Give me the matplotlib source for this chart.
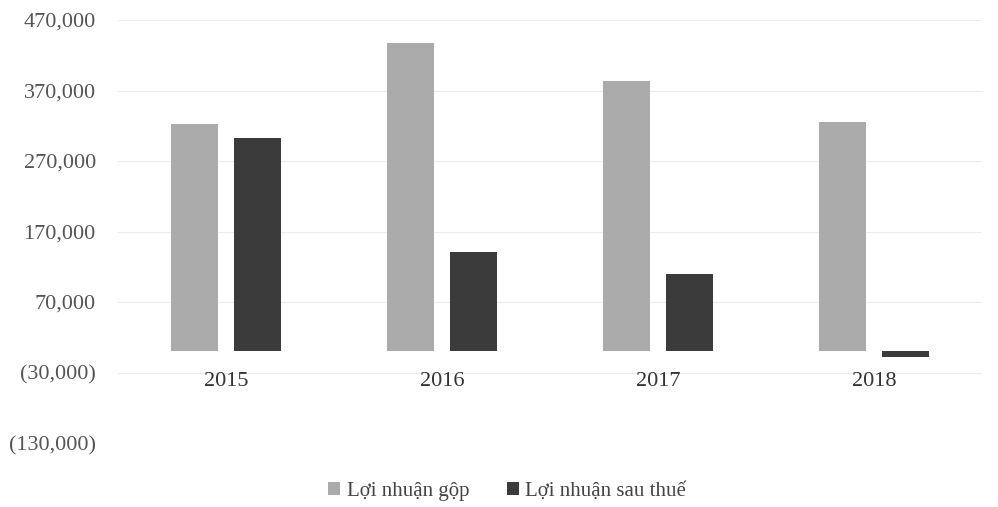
import numpy as np
import matplotlib
matplotlib.use("Agg")
from matplotlib import pyplot as plt
from matplotlib.ticker import FuncFormatter

years = ["2015", "2016", "2017", "2018"]
loi_nhuan_gop = [323000, 437000, 384000, 326000]
loi_nhuan_sau_thue = [303000, 141000, 110000, -8000]
yticks = [-130000, -30000, 70000, 170000, 270000, 370000, 470000]

plt.rcParams['font.family'] = ['Liberation Serif', 'DejaVu Serif']

fig = plt.figure(figsize=(9.98, 5.07), dpi=100)
ax = fig.add_axes([118/998, 1-443/507, 864/998, 423/507])

x = np.arange(len(years))
w = 0.22
ax.bar(x - 0.145, loi_nhuan_gop, w, color='#ababab', label='Lợi nhuận gộp', zorder=2)
ax.bar(x + 0.145, loi_nhuan_sau_thue, w, color='#3b3b3b', label='Lợi nhuận sau thuế', zorder=2)

ax.set_xlim(-0.5, len(years) - 0.5)
ax.set_ylim(yticks[0], yticks[-1])
ax.set_yticks(yticks)
ax.yaxis.set_major_formatter(FuncFormatter(
    lambda v, p: f"({abs(v):,.0f})" if v < 0 else f"{v:,.0f}"))
ax.grid(axis='y', color='#ececec', linewidth=0.8, zorder=0)
ax.tick_params(axis='y', length=0, labelsize=16, labelcolor='#555555', pad=16)

# year labels sit just under the zero line
ax.set_xticks([])
for i, yr in enumerate(years):
    ax.annotate(yr, (i, 0), xytext=(0, -22), textcoords='offset points',
                ha='center', va='center', fontsize=16, color='#333333')

for s in ax.spines.values():
    s.set_visible(False)

fig.legend(loc='lower center', bbox_to_anchor=(0.508, -0.025), ncol=2, frameon=False,
           fontsize=15, handlelength=0.6, handleheight=0.6, handletextpad=0.3,
           columnspacing=1.8, labelcolor='#444444')

fig.savefig("out.png", dpi=100)
